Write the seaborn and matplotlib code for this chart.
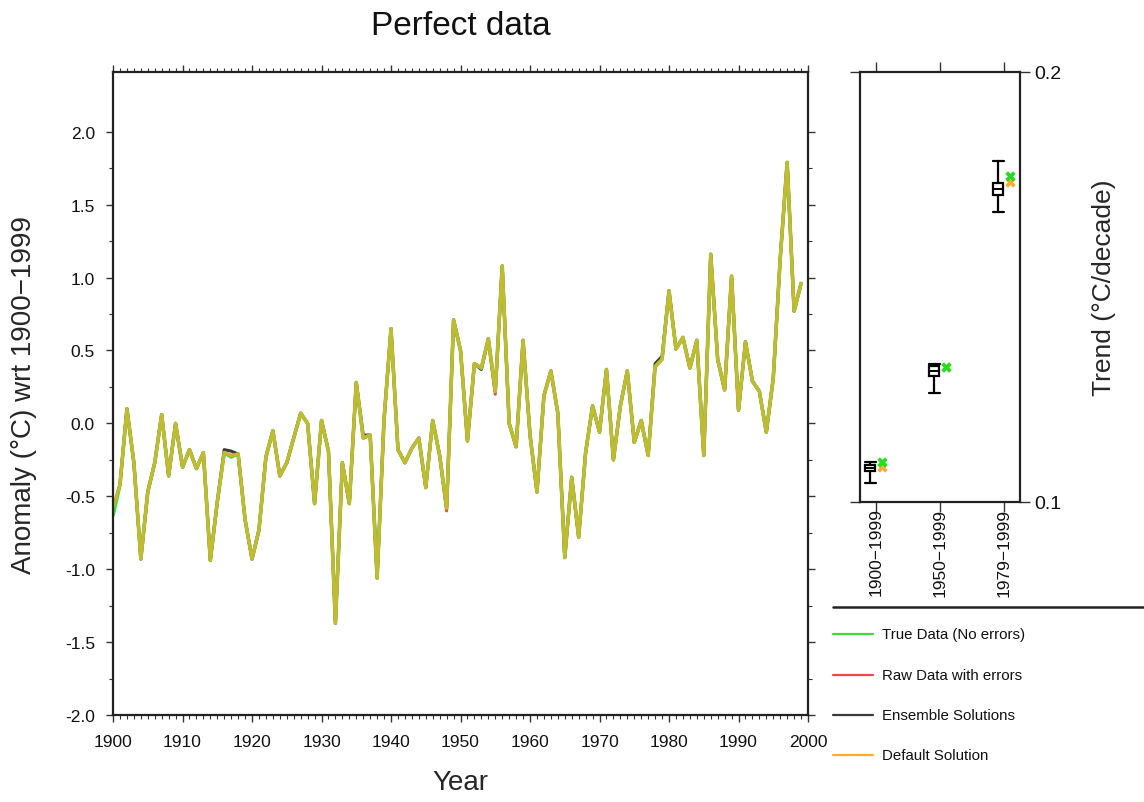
import numpy as np
import pandas as pd
import matplotlib
matplotlib.use("Agg")
import matplotlib.pyplot as plt
from matplotlib.ticker import MultipleLocator, FixedLocator, FormatStrFormatter
from matplotlib.lines import Line2D
import seaborn as sns

# ---- annual anomaly series, 1900-1999 (degC wrt 1900-1999) ----
years = list(range(1900, 2000))
anomaly = [
    -0.59, -0.42, 0.10, -0.27, -0.93, -0.47, -0.27, 0.06, -0.36, 0.00,
    -0.30, -0.18, -0.31, -0.20, -0.94, -0.54, -0.20, -0.22, -0.21, -0.66,
    -0.93, -0.73, -0.23, -0.05, -0.36, -0.27, -0.10, 0.07, 0.00, -0.55,
    0.02, -0.19, -1.37, -0.27, -0.55, 0.28, -0.10, -0.08, -1.06, 0.03,
    0.65, -0.18, -0.27, -0.17, -0.10, -0.44, 0.02, -0.22, -0.58, 0.71,
    0.50, -0.12, 0.41, 0.38, 0.58, 0.22, 1.08, 0.00, -0.16, 0.57,
    -0.08, -0.47, 0.19, 0.36, 0.07, -0.92, -0.37, -0.78, -0.20, 0.12,
    -0.06, 0.37, -0.25, 0.12, 0.36, -0.13, 0.02, -0.22, 0.39, 0.44,
    0.91, 0.51, 0.59, 0.38, 0.57, -0.22, 1.16, 0.44, 0.23, 1.01,
    0.09, 0.56, 0.29, 0.22, -0.06, 0.31, 1.13, 1.79, 0.77, 0.96,
]
# year -> value where a series departs from the shared values
true_changes = {1900: -0.63, 1917: -0.23}
raw_changes = {1955: 0.20, 1948: -0.60}
ensemble_changes = {1916: -0.18, 1917: -0.19, 1936: -0.08, 1953: 0.37, 1979: 0.46, 1978: 0.41}
default_changes = {1900: -0.57}

# ---- trend panel ----
periods = ["1900\u22121999", "1950\u22121999", "1979\u22121999"]
ens_whislo = [0.1044, 0.1253, 0.1674]
ens_q1 = [0.1073, 0.1294, 0.1713]
ens_med = [0.1078, 0.1305, 0.1728]
ens_q3 = [0.1085, 0.1317, 0.1742]
ens_whishi = [0.1092, 0.1320, 0.1794]
true_trend = [0.1093, 0.1315, 0.1758]
default_trend = [0.1082, 0.1313, 0.1745]

series_names = ["True Data (No errors)", "Raw Data with errors",
                "Ensemble Solutions", "Default Solution"]
series_colors = ["#38e038", "#f04848", "#3a3a3a", "#ffaa30"]

sns.set_theme(style="white")
plt.rcParams["font.family"] = ["Liberation Sans", "DejaVu Sans"]
plt.rcParams["axes.edgecolor"] = "#222222"
plt.rcParams["axes.linewidth"] = 1.6
plt.rcParams["text.color"] = "#111111"

fig = plt.figure(figsize=(11.44, 8.03), dpi=100)
fig.patch.set_facecolor("white")


def series(changes):
    vals = list(anomaly)
    for yr, v in changes.items():
        vals[yr - years[0]] = v
    return pd.DataFrame({"year": years, "value": vals})


# ---- main time-series axes ----
ax = fig.add_axes([0.0988, 0.1083, 0.6075, 0.8008])
sns.lineplot(data=series(ensemble_changes), x="year", y="value", ax=ax,
             color=series_colors[2], lw=2.2)
sns.lineplot(data=series(raw_changes), x="year", y="value", ax=ax,
             color=series_colors[1], lw=2.2)
sns.lineplot(data=series(true_changes), x="year", y="value", ax=ax,
             color=series_colors[0], lw=2.6)
sns.lineplot(data=series(default_changes), x="year", y="value", ax=ax,
             color=series_colors[3], lw=2.4, alpha=0.7)

ax.set_xlim(1900, 2000)
ax.set_ylim(-2.0, 2.41)
ax.xaxis.set_major_locator(MultipleLocator(10))
ax.xaxis.set_minor_locator(MultipleLocator(1))
ax.yaxis.set_major_locator(FixedLocator(np.arange(-2.0, 2.01, 0.5)))
ax.yaxis.set_minor_locator(FixedLocator(np.arange(-1.75, 2.01, 0.5)))
ax.yaxis.set_major_formatter(FormatStrFormatter("%.1f"))
ax.tick_params(which="both", direction="out", top=True, right=True,
               bottom=True, left=True, color="#333333", labelsize=12.5,
               labelcolor="#111111")
ax.tick_params(which="major", length=5, width=1.0)
ax.tick_params(axis="y", which="major", pad=8)
ax.tick_params(axis="x", which="major", pad=9)
ax.tick_params(which="minor", length=3, width=0.8)
ax.set_xlabel("Year", fontsize=20, labelpad=14)
ax.set_ylabel("Anomaly (\u00b0C) wrt 1900\u22121999", fontsize=20, labelpad=20)
ax.set_title("Perfect data", fontsize=24, pad=27)
ax.grid(False)

# ---- trend panel ----
ax2 = fig.add_axes([0.7517, 0.3736, 0.1399, 0.5355])
pos = np.arange(len(periods))
stats = [dict(whislo=ens_whislo[i], q1=ens_q1[i], med=ens_med[i],
              q3=ens_q3[i], whishi=ens_whishi[i], fliers=[])
         for i in range(len(periods))]
ax2.bxp(stats, positions=pos - 0.09, widths=0.15, showfliers=False,
        patch_artist=True,
        boxprops=dict(facecolor="white", edgecolor="black", linewidth=1.6),
        medianprops=dict(color="black", linewidth=1.4),
        whiskerprops=dict(color="black", linewidth=1.6),
        capprops=dict(color="black", linewidth=1.6),
        capwidths=0.17)
sns.scatterplot(x=pos + 0.1, y=default_trend, ax=ax2, marker="X",
                color=series_colors[3], s=55, linewidth=0, zorder=4)
sns.scatterplot(x=pos + 0.1, y=true_trend, ax=ax2, marker="X",
                color="#22dd22", s=55, linewidth=0, zorder=5)

ax2.set_xlim(-0.25, 2.25)
ax2.set_ylim(0.1, 0.2)
ax2.xaxis.set_major_locator(FixedLocator(pos))
ax2.set_xticklabels(periods, rotation=90, fontsize=12)
ax2.yaxis.set_major_locator(FixedLocator([0.1, 0.2]))
ax2.yaxis.set_major_formatter(FormatStrFormatter("%.1f"))
ax2.yaxis.tick_right()
ax2.yaxis.set_label_position("right")
ax2.tick_params(which="both", direction="out", top=True, bottom=True,
                left=True, right=True, length=7, width=1.0,
                color="#333333", labelsize=12.5, labelcolor="#111111")
ax2.tick_params(axis="x", pad=-3)
ax2.tick_params(axis="y", labelsize=14)
ax2.set_xlabel("")
ax2.set_ylabel("Trend (\u00b0C/decade)", fontsize=19, labelpad=22)
ax2.grid(False)

# ---- separator and legend ----
fig.add_artist(Line2D([0.728, 1.0], [0.2428, 0.2428], color="#222222", lw=1.8))
legend_rows = [0.2092, 0.1582, 0.1083, 0.0585]
for name, col, yrow in zip(series_names, series_colors, legend_rows):
    fig.add_artist(Line2D([0.728, 0.763], [yrow, yrow], color=col, lw=1.6))
    fig.text(0.771, yrow, name, fontsize=10.8, va="center", ha="left",
             color="#111111")

fig.savefig("out.png", dpi=100, facecolor="white")
